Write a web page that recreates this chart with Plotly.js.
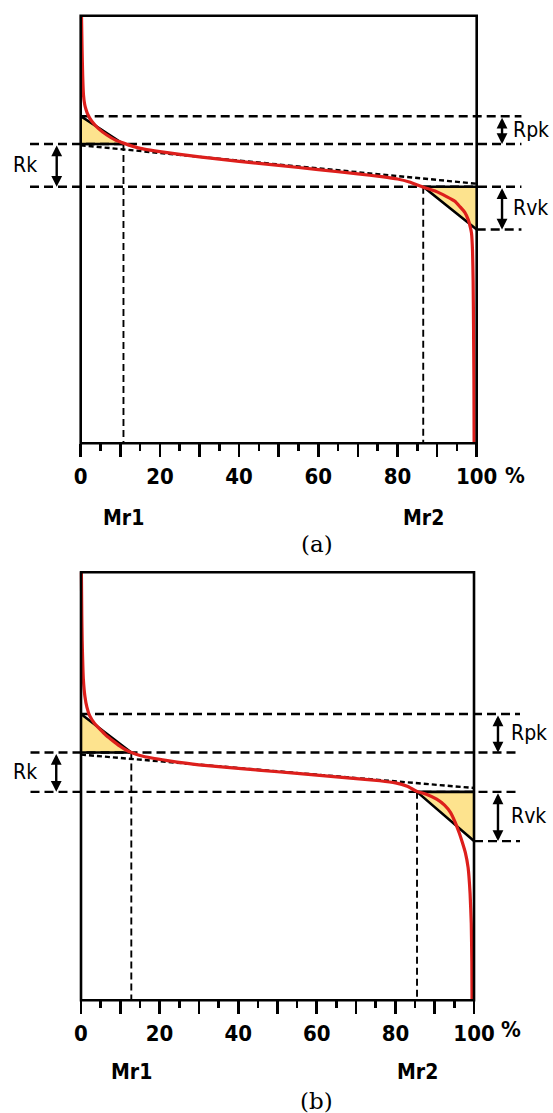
<!DOCTYPE html>
<html><head><meta charset="utf-8">
<script src="https://cdn.plot.ly/plotly-3.0.1.min.js"></script>
<style>html,body{margin:0;padding:0;background:#fff}#chart{width:553px;height:1113px}</style>
</head><body><div id="chart"></div>
<script>
// ---------- DATA ----------
// Panel (a): bearing (Abbott-Firestone) curve, material ratio % vs height (arbitrary units)
const pctA = [0.2,0.35,0.5,0.7,1.0,1.3,1.8,2.8,4.5,6.6,8.8,10.8,13,16,20,30,40,50,60,70,76,80,83,86.5,89.5,92.4,94.5,95.8,97.0,97.9,98.4,98.7,98.95,99.1,99.2,99.3,99.35];
const heightA = [100,92,86,81.5,79.3,78.2,76.9,75.3,73.6,72.1,70.9,70.2,69.5,68.8,68.2,67.0,65.95,65.0,64.0,63.0,62.35,61.8,61.1,59.9,59.0,57.7,56.6,55.3,54.0,52.2,50.5,49.1,45,38,28,15,0];
// levels: [Rpk top, Rk top, Rk bottom, Rvk bottom]
const levelsA = [76.5, 70, 60, 50];
const mrA = [10.8, 86.5];            // Mr1, Mr2
const eqLineA = [69.7, 60.7];        // equivalent straight line at 0 % and 100 %

// Panel (b)
const pctB = [0.1,0.2,0.3,0.6,1.0,1.5,2.2,3.5,5,6.5,8.3,10.2,11.8,12.8,15,18,22,30,40,50,60,70,76,80,83,85.5,88,90.5,92.5,94.0,95.2,96.2,97.0,97.8,98.5,99.0,99.3,99.45,99.5];
const heightB = [100,90,84,75,71,68.5,66.5,64.6,63.2,61.8,60.5,59.2,58.3,57.9,57.2,56.6,56.0,55.0,54.2,53.4,52.6,51.8,51.3,50.8,50.0,48.8,48.1,47.0,45.6,43.9,41.6,39.2,37.0,34.5,31,25,18,9,0];
const levelsB = [66.9, 57.9, 48.7, 37.2];
const mrB = [12.8, 85.5];
const eqLineB = [57.4, 49.6];

const tickVals = [0,10,20,30,40,50,60,70,80,90,100];
const tickText = ['0','','20','','40','','60','','80','','100'];
const minorTickVals = [5,15,25,35,45,55,65,75,85,95];
const paramLabels = ['Rpk','Rk','Rvk'];
const mrLabels = ['Mr1','Mr2'];
const panelLabels = ['(a)','(b)'];

// ---------- STYLE ----------
const SANS = "'DejaVu Sans Condensed','DejaVu Sans',sans-serif";
const RED = '#dd1f1c';
const YELLOW = '#fde38e';

const traces = [], shapes = [], annotations = [];

function panel(o){
  const [rpkTop, rkTop, rkBot, rvkBot] = o.lv;
  const [m1, m2] = o.mr;
  const xa = o.xa, ya = o.ya;
  const base = {xaxis: xa, yaxis: ya, mode:'lines', hoverinfo:'skip', showlegend:false};
  traces.push(Object.assign({}, base, {x:[0,0,m1,0], y:[rpkTop,rkTop,rkTop,rpkTop], fill:'toself', fillcolor:YELLOW, line:{width:0}}));
  traces.push(Object.assign({}, base, {x:[m2,100,100,m2], y:[rkBot,rkBot,rvkBot,rkBot], fill:'toself', fillcolor:YELLOW, line:{width:0}}));
  traces.push(Object.assign({}, base, {
    x:[0,o.gR,null,o.gL,o.gR,null,o.gL,o.gR,null,100,o.gR],
    y:[rpkTop,rpkTop,null,rkTop,rkTop,null,rkBot,rkBot,null,rvkBot,rvkBot],
    line:{color:'#000', width:2.4, dash:'9px,5px'}, connectgaps:false}));
  traces.push(Object.assign({}, base, {x:[m1,m1,null,m2,m2], y:[rkTop,0,null,rkBot,0],
    line:{color:'#000', width:1.9, dash:'7px,4px'}, connectgaps:false}));
  traces.push(Object.assign({}, base, {x:[0,100], y:o.eq, line:{color:'#000', width:2.4, dash:'5px,3px'}}));
  traces.push(Object.assign({}, base, {x:[0,m1,0,null,100,m2,100], y:[rpkTop,rkTop,rkTop,null,rkBot,rkBot,rvkBot],
    line:{color:'#000', width:2.6}, connectgaps:false}));
  traces.push(Object.assign({}, base, {x:o.pct, y:o.h, line:{color:RED, width:3.2, shape:'spline', smoothing:0.4}}));

  shapes.push({type:'rect', xref:xa, yref:ya, x0:0, x1:100, y0:0, y1:100, line:{color:'#000', width:2.6}, layer:'above'});

  const arr = (x, y0, y1) => annotations.push({xref:xa, yref:ya, axref:xa, ayref:ya, x:x, y:y1, ax:x, ay:y0, text:'',
    showarrow:true, arrowside:'end+start', arrowhead:2, startarrowhead:2, arrowsize:0.9, startarrowsize:0.9, arrowwidth:2.4, arrowcolor:'#000'});
  arr(o.aR, rpkTop, rkTop);
  arr(o.aL, rkTop, rkBot);
  arr(o.aR, rkBot, rvkBot);

  const lab = {family:SANS, size:21, color:'#000'};
  annotations.push({xref:xa, yref:ya, x:o.tR, y:(rpkTop+rkTop)/2, text:paramLabels[0], showarrow:false, xanchor:'left', yanchor:'middle', font:lab});
  annotations.push({xref:xa, yref:ya, x:o.tL, y:(rkTop+rkBot)/2, text:paramLabels[1], showarrow:false, xanchor:'center', yanchor:'middle', font:lab});
  annotations.push({xref:xa, yref:ya, x:o.tR, y:(rkBot+rvkBot)/2, text:paramLabels[2], showarrow:false, xanchor:'left', yanchor:'middle', font:lab});

  const mrFont = {family:SANS, size:21, color:'#000', weight:'bold'};
  annotations.push({xref:xa, yref:'paper', x:m1, y:o.mrY, text:mrLabels[0], showarrow:false, xanchor:'center', yanchor:'middle', font:mrFont});
  annotations.push({xref:xa, yref:'paper', x:m2, y:o.mrY, text:mrLabels[1], showarrow:false, xanchor:'center', yanchor:'middle', font:mrFont});
  annotations.push({xref:xa, yref:'paper', x:o.pctX, y:o.tickY, text:'%', showarrow:false, xanchor:'center', yanchor:'middle', font:{family:SANS, size:22, color:'#000', weight:'bold'}});
  annotations.push({xref:'paper', yref:'paper', x:0.5732, y:o.capY, text:o.cap, showarrow:false, xanchor:'center', yanchor:'middle', font:{family:"'DejaVu Serif',serif", size:23, color:'#000'}});
}

panel({xa:'x', ya:'y', pct:pctA, h:heightA, lv:levelsA, mr:mrA, eq:eqLineA,
  gL:-12.8, gR:111.3, aL:-6.06, aR:106.4, tL:-14.1, tR:108.6, mrY:0.5346, pctX:109.7, tickY:0.5732, capY:0.5112, cap:panelLabels[0]});
panel({xa:'x2', ya:'y2', pct:pctB, h:heightB, lv:levelsB, mr:mrB, eq:eqLineB,
  gL:-12.85, gR:111.7, aL:-6.3, aR:106.1, tL:-14.3, tR:108.8, mrY:0.0371, pctX:109.3, tickY:0.0752, capY:0.0110, cap:panelLabels[1]});

function xaxis(range, pos){
  return {domain:[0,1], range:range, anchor:'free', position:pos, showgrid:false, zeroline:false, showline:false,
    tickmode:'array', tickvals:tickVals, ticktext:tickText, ticks:'outside', ticklen:13, tickwidth:2.6, tickcolor:'#000',
    tickfont:{family:SANS, size:22, color:'#000', weight:'bold'}, ticklabelstandoff:0,
    minor:{tickmode:'array', tickvals:minorTickVals, ticks:'outside', ticklen:7, tickwidth:2.6, tickcolor:'#000', showgrid:false},
    fixedrange:true};
}
function yaxis(domain, anchor){
  return {domain:domain, range:[-1.5,102], visible:false, showgrid:false, zeroline:false, anchor:anchor, fixedrange:true};
}

const layout = {
  width:553, height:1113, margin:{l:0,r:0,t:0,b:0},
  paper_bgcolor:'#fff', plot_bgcolor:'rgba(0,0,0,0)', showlegend:false,
  xaxis: xaxis([-20.38,119.27], 0.601707),
  yaxis: yaxis([0.595945,0.993578], 'x'),
  xaxis2: xaxis([-20.611,120.10], 0.101258),
  yaxis2: yaxis([0.095489,0.493495], 'x2'),
  shapes: shapes, annotations: annotations
};

Plotly.newPlot('chart', traces, layout, {staticPlot:true, displayModeBar:false});
</script></body></html>
